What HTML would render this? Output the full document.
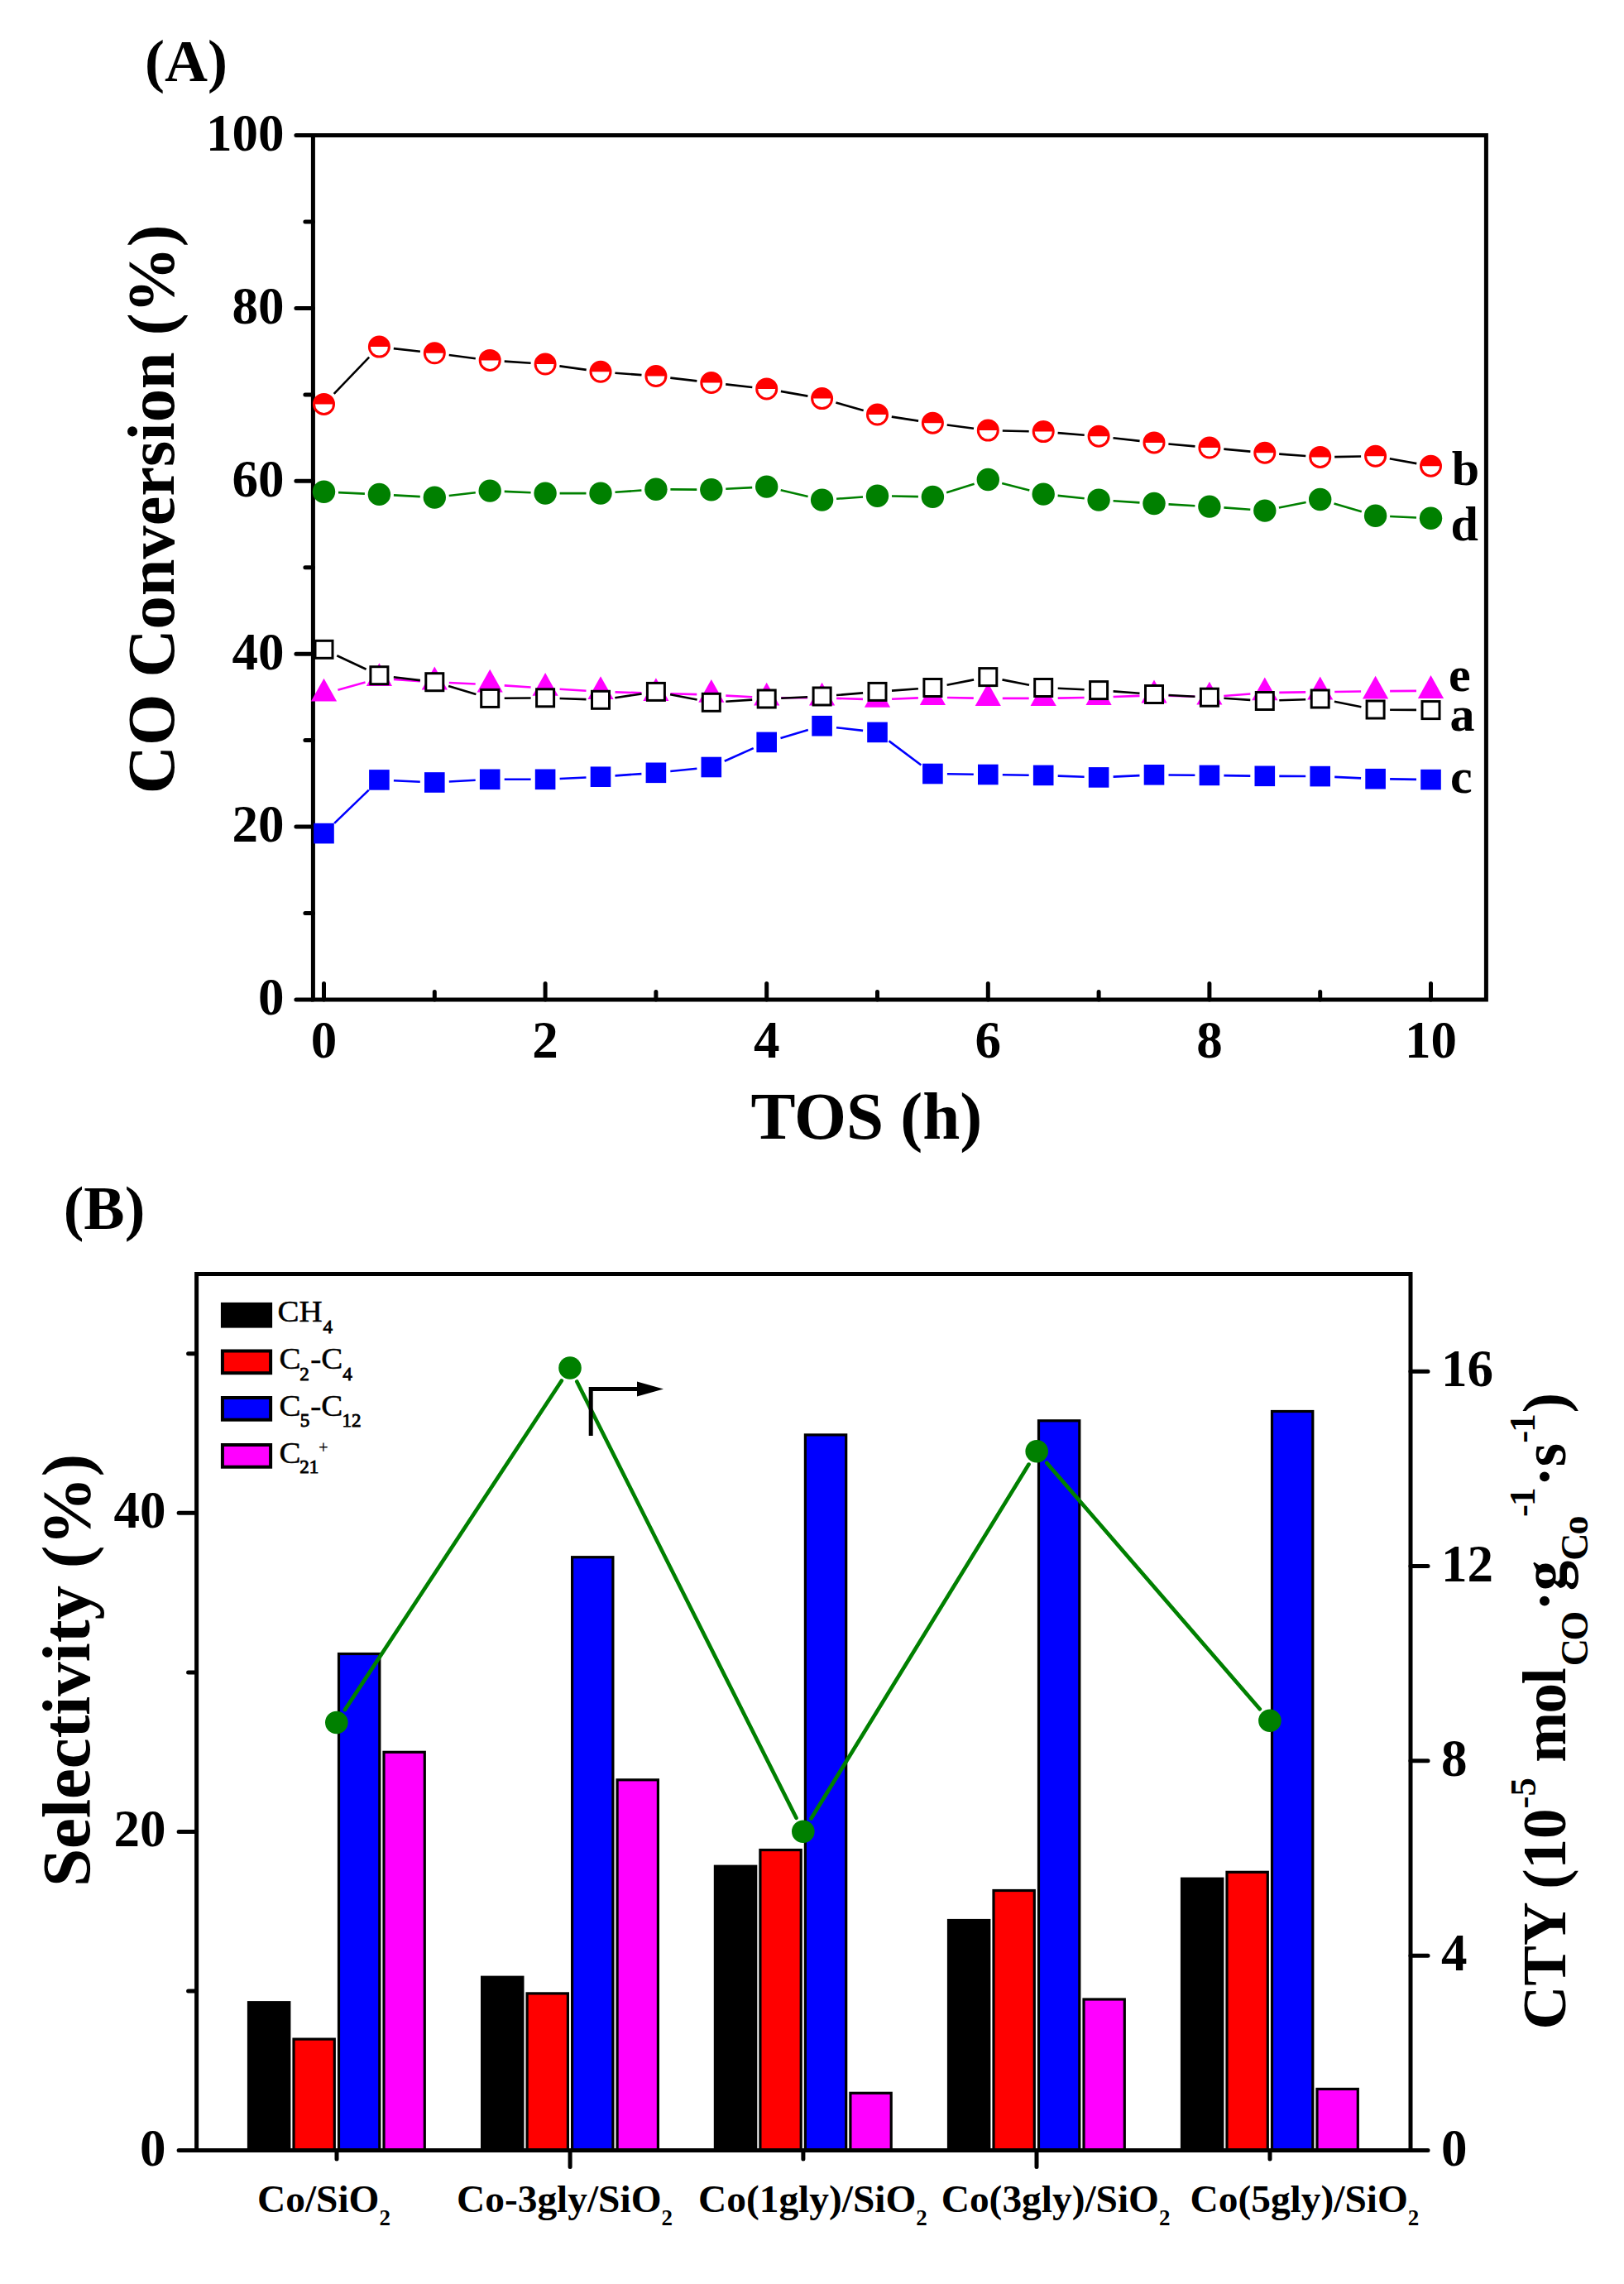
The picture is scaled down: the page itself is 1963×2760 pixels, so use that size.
<!DOCTYPE html>
<html><head><meta charset="utf-8"><title>Figure</title>
<style>
html,body{margin:0;padding:0;background:#fff;}
svg{display:block;}
text{font-family:"Liberation Serif","Times New Roman",serif;fill:#000;}
.b{font-weight:bold;}
</style></head><body>
<svg width="1963" height="2760" viewBox="0 0 1963 2760">
<rect width="1963" height="2760" fill="#fff"/>
<g id="chartA">
<rect x="378.4" y="163.5" width="1418.0" height="1044.5" fill="none" stroke="#000" stroke-width="5"/>
<path d="M378.4 1208.0H357.9M378.4 1103.5H368.9M378.4 999.1H357.9M378.4 894.6H368.9M378.4 790.2H357.9M378.4 685.8H368.9M378.4 581.3H357.9M378.4 476.9H368.9M378.4 372.4H357.9M378.4 268.0H368.9M378.4 163.5H357.9M391.5 1208.0V1188.5M525.3 1208.0V1198.5M659.1 1208.0V1188.5M792.9 1208.0V1198.5M926.7 1208.0V1188.5M1060.5 1208.0V1198.5M1194.3 1208.0V1188.5M1328.1 1208.0V1198.5M1461.9 1208.0V1188.5M1595.7 1208.0V1198.5M1729.5 1208.0V1188.5" stroke="#000" stroke-width="5" stroke-linecap="round" fill="none"/>
<path d="M408.4 833.7L441.5 824.6M475.9 821.0L507.8 823.1M542.8 825.0L574.7 826.5M609.7 828.4L641.6 830.5M676.6 832.7L708.5 834.8M743.5 836.4L775.4 837.3M810.4 838.3L842.3 839.1M877.3 840.6L909.2 842.3M944.2 843.3L976.1 843.3M1011.1 843.9L1043.0 844.9M1078.0 844.8L1109.9 843.4M1144.9 843.0L1176.8 843.6M1211.8 843.9L1243.7 843.9M1278.7 843.6L1310.6 843.0M1345.6 842.0L1377.5 840.9M1412.5 840.8L1444.4 841.8M1479.3 841.0L1511.4 838.5M1546.3 836.9L1578.2 836.4M1613.2 836.0L1645.1 835.5M1680.1 835.1L1712.0 834.9" stroke="#ff00ff" stroke-width="2.6" fill="none"/>
<path d="M391.5 819.8L407.1 847.6L375.9 847.6Z" fill="#ff00ff"/><path d="M458.4 801.3L474.0 829.1L442.8 829.1Z" fill="#ff00ff"/><path d="M525.3 805.6L540.9 833.4L509.7 833.4Z" fill="#ff00ff"/><path d="M592.2 808.7L607.8 836.5L576.6 836.5Z" fill="#ff00ff"/><path d="M659.1 813.0L674.7 840.8L643.5 840.8Z" fill="#ff00ff"/><path d="M726.0 817.3L741.6 845.1L710.4 845.1Z" fill="#ff00ff"/><path d="M792.9 819.2L808.5 847.0L777.3 847.0Z" fill="#ff00ff"/><path d="M859.8 821.0L875.4 848.8L844.2 848.8Z" fill="#ff00ff"/><path d="M926.7 824.7L942.3 852.5L911.1 852.5Z" fill="#ff00ff"/><path d="M993.6 824.7L1009.2 852.5L978.0 852.5Z" fill="#ff00ff"/><path d="M1060.5 826.9L1076.1 854.7L1044.9 854.7Z" fill="#ff00ff"/><path d="M1127.4 824.1L1143.0 851.9L1111.8 851.9Z" fill="#ff00ff"/><path d="M1194.3 825.3L1209.9 853.1L1178.7 853.1Z" fill="#ff00ff"/><path d="M1261.2 825.3L1276.8 853.1L1245.6 853.1Z" fill="#ff00ff"/><path d="M1328.1 824.1L1343.7 851.9L1312.5 851.9Z" fill="#ff00ff"/><path d="M1395.0 821.6L1410.6 849.4L1379.4 849.4Z" fill="#ff00ff"/><path d="M1461.9 823.8L1477.5 851.6L1446.3 851.6Z" fill="#ff00ff"/><path d="M1528.8 818.5L1544.4 846.3L1513.2 846.3Z" fill="#ff00ff"/><path d="M1595.7 817.6L1611.3 845.4L1580.1 845.4Z" fill="#ff00ff"/><path d="M1662.6 816.7L1678.2 844.5L1647.0 844.5Z" fill="#ff00ff"/><path d="M1729.5 816.1L1745.1 843.9L1713.9 843.9Z" fill="#ff00ff"/>
<path d="M407.3 792.2L442.6 808.8M475.8 818.3L507.9 822.1M542.1 829.1L575.4 839.0M609.7 843.7L641.6 843.5M676.6 844.0L708.5 845.1M743.3 843.2L775.6 838.5M810.1 839.2L842.6 845.5M877.3 847.7L909.2 845.6M944.2 843.7L976.1 842.3M1011.0 840.0L1043.1 837.4M1078.0 834.6L1109.9 832.3M1144.6 827.7L1177.1 821.4M1211.5 821.4L1244.0 827.7M1278.7 831.8L1310.6 833.3M1345.6 835.4L1377.5 837.7M1412.5 840.0L1444.4 841.7M1479.4 843.8L1511.3 845.9M1546.3 846.3L1578.2 845.2M1612.9 847.8L1645.4 854.2M1680.1 857.7L1712.0 857.9" stroke="#000" stroke-width="2.6" fill="none"/>
<rect x="381.0" y="774.3" width="21" height="21" fill="#fff" stroke="#000" stroke-width="3"/><rect x="447.9" y="805.7" width="21" height="21" fill="#fff" stroke="#000" stroke-width="3"/><rect x="514.8" y="813.7" width="21" height="21" fill="#fff" stroke="#000" stroke-width="3"/><rect x="581.7" y="833.4" width="21" height="21" fill="#fff" stroke="#000" stroke-width="3"/><rect x="648.6" y="832.8" width="21" height="21" fill="#fff" stroke="#000" stroke-width="3"/><rect x="715.5" y="835.3" width="21" height="21" fill="#fff" stroke="#000" stroke-width="3"/><rect x="782.4" y="825.4" width="21" height="21" fill="#fff" stroke="#000" stroke-width="3"/><rect x="849.3" y="838.3" width="21" height="21" fill="#fff" stroke="#000" stroke-width="3"/><rect x="916.2" y="834.0" width="21" height="21" fill="#fff" stroke="#000" stroke-width="3"/><rect x="983.1" y="831.0" width="21" height="21" fill="#fff" stroke="#000" stroke-width="3"/><rect x="1050.0" y="825.4" width="21" height="21" fill="#fff" stroke="#000" stroke-width="3"/><rect x="1116.9" y="820.5" width="21" height="21" fill="#fff" stroke="#000" stroke-width="3"/><rect x="1183.8" y="807.6" width="21" height="21" fill="#fff" stroke="#000" stroke-width="3"/><rect x="1250.7" y="820.5" width="21" height="21" fill="#fff" stroke="#000" stroke-width="3"/><rect x="1317.6" y="823.6" width="21" height="21" fill="#fff" stroke="#000" stroke-width="3"/><rect x="1384.5" y="828.5" width="21" height="21" fill="#fff" stroke="#000" stroke-width="3"/><rect x="1451.4" y="832.2" width="21" height="21" fill="#fff" stroke="#000" stroke-width="3"/><rect x="1518.3" y="836.5" width="21" height="21" fill="#fff" stroke="#000" stroke-width="3"/><rect x="1585.2" y="834.0" width="21" height="21" fill="#fff" stroke="#000" stroke-width="3"/><rect x="1652.1" y="847.0" width="21" height="21" fill="#fff" stroke="#000" stroke-width="3"/><rect x="1719.0" y="847.6" width="21" height="21" fill="#fff" stroke="#000" stroke-width="3"/>
<path d="M403.7 475.8L446.2 431.7M475.8 421.1L507.9 424.8M542.7 429.0L574.8 433.2M609.7 436.6L641.6 438.8M676.4 442.4L708.7 446.9M743.4 450.7L775.5 453.1M810.3 456.6L842.4 460.4M877.2 464.4L909.3 468.0M943.9 472.9L976.4 478.6M1010.4 486.5L1043.7 496.1M1077.8 503.6L1110.1 508.6M1144.7 513.5L1177.0 517.8M1211.8 520.5L1243.7 521.2M1278.6 523.1L1310.7 525.7M1345.5 529.2L1377.6 532.9M1412.4 536.5L1444.5 539.4M1479.3 542.6L1511.4 545.6M1546.2 548.6L1578.3 551.0M1613.2 552.1L1645.1 551.5M1679.8 554.3L1712.3 560.1" stroke="#000" stroke-width="2.6" fill="none"/>
<circle cx="391.5" cy="488.4" r="12" fill="#fff" stroke="#ff0000" stroke-width="3"/><path d="M379.5 488.4A12 12 0 0 1 403.5 488.4Z" fill="#ff0000"/><circle cx="458.4" cy="419.1" r="12" fill="#fff" stroke="#ff0000" stroke-width="3"/><path d="M446.4 419.1A12 12 0 0 1 470.4 419.1Z" fill="#ff0000"/><circle cx="525.3" cy="426.8" r="12" fill="#fff" stroke="#ff0000" stroke-width="3"/><path d="M513.3 426.8A12 12 0 0 1 537.3 426.8Z" fill="#ff0000"/><circle cx="592.2" cy="435.4" r="12" fill="#fff" stroke="#ff0000" stroke-width="3"/><path d="M580.2 435.4A12 12 0 0 1 604.2 435.4Z" fill="#ff0000"/><circle cx="659.1" cy="440.0" r="12" fill="#fff" stroke="#ff0000" stroke-width="3"/><path d="M647.1 440.0A12 12 0 0 1 671.1 440.0Z" fill="#ff0000"/><circle cx="726.0" cy="449.3" r="12" fill="#fff" stroke="#ff0000" stroke-width="3"/><path d="M714.0 449.3A12 12 0 0 1 738.0 449.3Z" fill="#ff0000"/><circle cx="792.9" cy="454.5" r="12" fill="#fff" stroke="#ff0000" stroke-width="3"/><path d="M780.9 454.5A12 12 0 0 1 804.9 454.5Z" fill="#ff0000"/><circle cx="859.8" cy="462.5" r="12" fill="#fff" stroke="#ff0000" stroke-width="3"/><path d="M847.8 462.5A12 12 0 0 1 871.8 462.5Z" fill="#ff0000"/><circle cx="926.7" cy="469.9" r="12" fill="#fff" stroke="#ff0000" stroke-width="3"/><path d="M914.7 469.9A12 12 0 0 1 938.7 469.9Z" fill="#ff0000"/><circle cx="993.6" cy="481.6" r="12" fill="#fff" stroke="#ff0000" stroke-width="3"/><path d="M981.6 481.6A12 12 0 0 1 1005.6 481.6Z" fill="#ff0000"/><circle cx="1060.5" cy="501.0" r="12" fill="#fff" stroke="#ff0000" stroke-width="3"/><path d="M1048.5 501.0A12 12 0 0 1 1072.5 501.0Z" fill="#ff0000"/><circle cx="1127.4" cy="511.2" r="12" fill="#fff" stroke="#ff0000" stroke-width="3"/><path d="M1115.4 511.2A12 12 0 0 1 1139.4 511.2Z" fill="#ff0000"/><circle cx="1194.3" cy="520.1" r="12" fill="#fff" stroke="#ff0000" stroke-width="3"/><path d="M1182.3 520.1A12 12 0 0 1 1206.3 520.1Z" fill="#ff0000"/><circle cx="1261.2" cy="521.6" r="12" fill="#fff" stroke="#ff0000" stroke-width="3"/><path d="M1249.2 521.6A12 12 0 0 1 1273.2 521.6Z" fill="#ff0000"/><circle cx="1328.1" cy="527.2" r="12" fill="#fff" stroke="#ff0000" stroke-width="3"/><path d="M1316.1 527.2A12 12 0 0 1 1340.1 527.2Z" fill="#ff0000"/><circle cx="1395.0" cy="534.9" r="12" fill="#fff" stroke="#ff0000" stroke-width="3"/><path d="M1383.0 534.9A12 12 0 0 1 1407.0 534.9Z" fill="#ff0000"/><circle cx="1461.9" cy="541.0" r="12" fill="#fff" stroke="#ff0000" stroke-width="3"/><path d="M1449.9 541.0A12 12 0 0 1 1473.9 541.0Z" fill="#ff0000"/><circle cx="1528.8" cy="547.2" r="12" fill="#fff" stroke="#ff0000" stroke-width="3"/><path d="M1516.8 547.2A12 12 0 0 1 1540.8 547.2Z" fill="#ff0000"/><circle cx="1595.7" cy="552.4" r="12" fill="#fff" stroke="#ff0000" stroke-width="3"/><path d="M1583.7 552.4A12 12 0 0 1 1607.7 552.4Z" fill="#ff0000"/><circle cx="1662.6" cy="551.2" r="12" fill="#fff" stroke="#ff0000" stroke-width="3"/><path d="M1650.6 551.2A12 12 0 0 1 1674.6 551.2Z" fill="#ff0000"/><circle cx="1729.5" cy="563.2" r="12" fill="#fff" stroke="#ff0000" stroke-width="3"/><path d="M1717.5 563.2A12 12 0 0 1 1741.5 563.2Z" fill="#ff0000"/>
<path d="M404.1 994.9L445.8 954.6M475.9 943.2L507.8 944.7M542.8 944.5L574.7 942.8M609.7 941.8L641.6 941.8M676.6 941.0L708.5 939.5M743.5 937.4L775.4 935.1M810.3 932.0L842.4 928.8M875.8 919.8L910.7 904.1M943.5 892.0L976.8 882.1M1011.0 879.2L1043.1 882.9M1074.5 895.4L1113.4 924.5M1144.9 935.3L1176.8 935.7M1211.8 936.2L1243.7 936.7M1278.7 937.6L1310.6 938.7M1345.6 938.6L1377.5 937.1M1412.5 936.5L1444.4 936.7M1479.4 937.1L1511.3 937.6M1546.3 937.9L1578.2 938.0M1613.2 938.9L1645.1 940.4M1680.1 941.4L1712.0 941.9" stroke="#0000ff" stroke-width="2.6" fill="none"/>
<rect x="379.2" y="994.8" width="24.6" height="24.6" fill="#0000ff"/><rect x="446.1" y="930.1" width="24.6" height="24.6" fill="#0000ff"/><rect x="513.0" y="933.2" width="24.6" height="24.6" fill="#0000ff"/><rect x="579.9" y="929.5" width="24.6" height="24.6" fill="#0000ff"/><rect x="646.8" y="929.5" width="24.6" height="24.6" fill="#0000ff"/><rect x="713.7" y="926.4" width="24.6" height="24.6" fill="#0000ff"/><rect x="780.6" y="921.5" width="24.6" height="24.6" fill="#0000ff"/><rect x="847.5" y="914.7" width="24.6" height="24.6" fill="#0000ff"/><rect x="914.4" y="884.6" width="24.6" height="24.6" fill="#0000ff"/><rect x="981.3" y="864.9" width="24.6" height="24.6" fill="#0000ff"/><rect x="1048.2" y="872.6" width="24.6" height="24.6" fill="#0000ff"/><rect x="1115.1" y="922.7" width="24.6" height="24.6" fill="#0000ff"/><rect x="1182.0" y="923.7" width="24.6" height="24.6" fill="#0000ff"/><rect x="1248.9" y="924.6" width="24.6" height="24.6" fill="#0000ff"/><rect x="1315.8" y="927.1" width="24.6" height="24.6" fill="#0000ff"/><rect x="1382.7" y="924.0" width="24.6" height="24.6" fill="#0000ff"/><rect x="1449.6" y="924.6" width="24.6" height="24.6" fill="#0000ff"/><rect x="1516.5" y="925.5" width="24.6" height="24.6" fill="#0000ff"/><rect x="1583.4" y="925.8" width="24.6" height="24.6" fill="#0000ff"/><rect x="1650.3" y="928.9" width="24.6" height="24.6" fill="#0000ff"/><rect x="1717.2" y="929.8" width="24.6" height="24.6" fill="#0000ff"/>
<path d="M409.0 595.1L440.9 596.6M475.9 598.4L507.8 600.1M542.7 599.0L574.8 595.2M609.7 593.9L641.6 595.3M676.6 596.1L708.5 596.1M743.5 594.8L775.4 592.5M810.4 591.4L842.3 591.6M877.3 590.8L909.2 589.1M943.7 592.2L976.6 600.0M1011.1 602.8L1043.0 600.5M1078.0 599.5L1109.9 600.1M1144.1 595.2L1177.6 584.7M1211.2 584.0L1244.3 592.6M1278.6 598.9L1310.7 602.3M1345.6 605.2L1377.5 607.4M1412.5 609.4L1444.4 611.2M1479.4 613.4L1511.3 615.8M1545.9 613.6L1578.6 607.0M1612.5 608.4L1645.8 618.3M1680.1 624.0L1712.0 625.5" stroke="#008000" stroke-width="2.6" fill="none"/>
<circle cx="391.5" cy="594.3" r="13.7" fill="#008000"/><circle cx="458.4" cy="597.4" r="13.7" fill="#008000"/><circle cx="525.3" cy="601.1" r="13.7" fill="#008000"/><circle cx="592.2" cy="593.1" r="13.7" fill="#008000"/><circle cx="659.1" cy="596.1" r="13.7" fill="#008000"/><circle cx="726.0" cy="596.1" r="13.7" fill="#008000"/><circle cx="792.9" cy="591.2" r="13.7" fill="#008000"/><circle cx="859.8" cy="591.8" r="13.7" fill="#008000"/><circle cx="926.7" cy="588.1" r="13.7" fill="#008000"/><circle cx="993.6" cy="604.1" r="13.7" fill="#008000"/><circle cx="1060.5" cy="599.2" r="13.7" fill="#008000"/><circle cx="1127.4" cy="600.4" r="13.7" fill="#008000"/><circle cx="1194.3" cy="579.5" r="13.7" fill="#008000"/><circle cx="1261.2" cy="597.1" r="13.7" fill="#008000"/><circle cx="1328.1" cy="604.1" r="13.7" fill="#008000"/><circle cx="1395.0" cy="608.5" r="13.7" fill="#008000"/><circle cx="1461.9" cy="612.1" r="13.7" fill="#008000"/><circle cx="1528.8" cy="617.1" r="13.7" fill="#008000"/><circle cx="1595.7" cy="603.5" r="13.7" fill="#008000"/><circle cx="1662.6" cy="623.2" r="13.7" fill="#008000"/><circle cx="1729.5" cy="626.3" r="13.7" fill="#008000"/>
<text class="b" x="343.5" y="1226.3" font-size="63" text-anchor="end">0</text><text class="b" x="343.5" y="1017.4" font-size="63" text-anchor="end">20</text><text class="b" x="343.5" y="808.5" font-size="63" text-anchor="end">40</text><text class="b" x="343.5" y="599.6" font-size="63" text-anchor="end">60</text><text class="b" x="343.5" y="390.7" font-size="63" text-anchor="end">80</text><text class="b" x="343.5" y="181.8" font-size="63" text-anchor="end">100</text>
<text class="b" x="391.5" y="1278.3" font-size="63" text-anchor="middle">0</text><text class="b" x="659.1" y="1278.3" font-size="63" text-anchor="middle">2</text><text class="b" x="926.7" y="1278.3" font-size="63" text-anchor="middle">4</text><text class="b" x="1194.3" y="1278.3" font-size="63" text-anchor="middle">6</text><text class="b" x="1461.9" y="1278.3" font-size="63" text-anchor="middle">8</text><text class="b" x="1729.5" y="1278.3" font-size="63" text-anchor="middle">10</text>
<text class="b" x="1047.4" y="1376" font-size="81" text-anchor="middle">TOS (h)</text>
<text class="b" transform="translate(210 615.3) rotate(-90)" font-size="80.4" text-anchor="middle">CO Conversion (%)</text>
<text class="b" x="175" y="98.3" font-size="72">(A)</text>
<text class="b" x="1754.7" y="586.3" font-size="60">b</text><text class="b" x="1753.5" y="653.3" font-size="60">d</text><text class="b" x="1751" y="834.7" font-size="60">e</text><text class="b" x="1752.5" y="883" font-size="60">a</text><text class="b" x="1753" y="957.8" font-size="60">c</text>
</g>
<g id="chartB">
<rect x="300.5" y="2419.7" width="49.3" height="178.8" fill="#000" stroke="#000" stroke-width="3.2"/><rect x="355.0" y="2464.1" width="49.3" height="134.4" fill="#ff0000" stroke="#000" stroke-width="3.2"/><rect x="409.5" y="1998.5" width="49.3" height="600.0" fill="#0000ff" stroke="#000" stroke-width="3.2"/><rect x="464.0" y="2117.3" width="49.3" height="481.2" fill="#ff00ff" stroke="#000" stroke-width="3.2"/>
<rect x="582.6" y="2389.2" width="49.3" height="209.3" fill="#000" stroke="#000" stroke-width="3.2"/><rect x="637.1" y="2408.9" width="49.3" height="189.6" fill="#ff0000" stroke="#000" stroke-width="3.2"/><rect x="691.6" y="1881.7" width="49.3" height="716.8" fill="#0000ff" stroke="#000" stroke-width="3.2"/><rect x="746.1" y="2150.8" width="49.3" height="447.7" fill="#ff00ff" stroke="#000" stroke-width="3.2"/>
<rect x="864.4" y="2255.2" width="49.3" height="343.3" fill="#000" stroke="#000" stroke-width="3.2"/><rect x="918.9" y="2235.5" width="49.3" height="363.0" fill="#ff0000" stroke="#000" stroke-width="3.2"/><rect x="973.4" y="1733.9" width="49.3" height="864.6" fill="#0000ff" stroke="#000" stroke-width="3.2"/><rect x="1027.9" y="2529.3" width="49.3" height="69.2" fill="#ff00ff" stroke="#000" stroke-width="3.2"/>
<rect x="1146.5" y="2320.5" width="49.3" height="278.0" fill="#000" stroke="#000" stroke-width="3.2"/><rect x="1201.0" y="2284.5" width="49.3" height="314.0" fill="#ff0000" stroke="#000" stroke-width="3.2"/><rect x="1255.5" y="1716.8" width="49.3" height="881.7" fill="#0000ff" stroke="#000" stroke-width="3.2"/><rect x="1310.0" y="2416.0" width="49.3" height="182.5" fill="#ff00ff" stroke="#000" stroke-width="3.2"/>
<rect x="1428.5" y="2270.2" width="49.3" height="328.3" fill="#000" stroke="#000" stroke-width="3.2"/><rect x="1483.0" y="2262.3" width="49.3" height="336.2" fill="#ff0000" stroke="#000" stroke-width="3.2"/><rect x="1537.5" y="1705.5" width="49.3" height="893.0" fill="#0000ff" stroke="#000" stroke-width="3.2"/><rect x="1592.0" y="2524.4" width="49.3" height="74.1" fill="#ff00ff" stroke="#000" stroke-width="3.2"/>
<path d="M417.0 2066.0L678.8 1668.5M697.3 1669.5L962.5 2196.8M980.5 2197.5L1243.5 1769.6M1265.3 1767.8L1522.8 2065.3" stroke="#008000" stroke-width="4.7" stroke-linecap="round" fill="none"/>
<circle cx="406.8" cy="2081.5" r="13.8" fill="#008000"/><circle cx="689.0" cy="1653.0" r="13.8" fill="#008000"/><circle cx="970.8" cy="2213.3" r="13.8" fill="#008000"/><circle cx="1253.2" cy="1753.8" r="13.8" fill="#008000"/><circle cx="1534.9" cy="2079.3" r="13.8" fill="#008000"/>
<path d="M714.2 1735V1678.5H772" stroke="#000" stroke-width="5" fill="none"/><path d="M770 1669.5L802 1678.5L770 1687.5Z" fill="#000"/>
<rect x="237.6" y="1539.5" width="1467.4" height="1059.0" fill="none" stroke="#000" stroke-width="5"/>
<path d="M237.6 2598.5H216.1M237.6 2406.0H227.6M237.6 2213.4H216.1M237.6 2020.9H227.6M237.6 1828.3H216.1M237.6 1635.8H227.6M1705.0 2598.5H1726.0M1705.0 2363.2H1726.0M1705.0 2127.8H1726.0M1705.0 1892.5H1726.0M1705.0 1657.2H1726.0M407.0 2598.5V2609.0M689.1 2598.5V2618.5M970.9 2598.5V2609.0M1253.0 2598.5V2618.5M1535.0 2598.5V2609.0" stroke="#000" stroke-width="5" stroke-linecap="round" fill="none"/>
<text class="b" x="200.5" y="2616.5" font-size="63" text-anchor="end">0</text><text class="b" x="200.5" y="2231.4" font-size="63" text-anchor="end">20</text><text class="b" x="200.5" y="1846.3" font-size="63" text-anchor="end">40</text>
<text class="b" x="1742" y="2616.5" font-size="63">0</text><text class="b" x="1742" y="2381.2" font-size="63">4</text><text class="b" x="1742" y="2145.8" font-size="63">8</text><text class="b" x="1742" y="1910.5" font-size="63">12</text><text class="b" x="1742" y="1675.2" font-size="63">16</text>
<text class="b" x="311" y="2673" font-size="47.4">Co/SiO<tspan font-size="27" dy="16">2</tspan></text><text class="b" x="552" y="2673" font-size="47.4">Co-3gly/SiO<tspan font-size="27" dy="16">2</tspan></text><text class="b" x="844" y="2673" font-size="47.4">Co(1gly)/SiO<tspan font-size="27" dy="16">2</tspan></text><text class="b" x="1137.7" y="2673" font-size="47.4">Co(3gly)/SiO<tspan font-size="27" dy="16">2</tspan></text><text class="b" x="1438.5" y="2673" font-size="47.4">Co(5gly)/SiO<tspan font-size="27" dy="16">2</tspan></text>
<text class="b" x="76.7" y="1484.5" font-size="74">(B)</text>
<text class="b" transform="translate(108 2018.5) rotate(-90)" font-size="83" text-anchor="middle">Selectivity (%)</text>
<g transform="translate(1891.7 2452.5) rotate(-90)" class="b" font-weight="bold"><text font-size="73"><tspan>CTY (10</tspan><tspan font-size="45" dy="-35.5">-5</tspan><tspan dy="35.5" dx="0 0 -1.5 -1.5"> mol</tspan><tspan font-size="46" dy="27" dx="2 -2.5">CO</tspan><tspan dy="-27" dx="0">·g</tspan><tspan font-size="46" dy="27" dx="0 -2">Co</tspan><tspan font-size="45" dy="-63.5" dx="-1.5 -2">-1</tspan><tspan dy="36.5" dx="1">·s</tspan><tspan font-size="45" dy="-36.5" dx="0 -2">-1</tspan><tspan dy="36.5" dx="1">)</tspan></text></g>
<rect x="268.9" y="1575.9" width="58.2" height="26.7" fill="#000" stroke="#000" stroke-width="4"/><rect x="268.9" y="1632.5" width="58.2" height="26.7" fill="#ff0000" stroke="#000" stroke-width="4"/><rect x="268.9" y="1689.0" width="58.2" height="26.7" fill="#0000ff" stroke="#000" stroke-width="4"/><rect x="268.9" y="1746.0" width="58.2" height="26.7" fill="#ff00ff" stroke="#000" stroke-width="4"/>
<text transform="translate(335.5 1597) scale(1.115 1)" font-size="35" stroke="#000" stroke-width="0.5">CH</text><text x="390.4" y="1610.8" font-size="23" stroke="#000" stroke-width="0.9">4</text>
<text transform="translate(337.5 1653.9) scale(1.115 1)" font-size="35" stroke="#000" stroke-width="0.5">C</text><text x="362.3" y="1667.8" font-size="23" stroke="#000" stroke-width="0.9">2</text><text transform="translate(375.2 1653.9) scale(1.115 1)" font-size="35" stroke="#000" stroke-width="0.5">-C</text><text x="414.2" y="1667.8" font-size="23" stroke="#000" stroke-width="0.9">4</text>
<text transform="translate(337.5 1710.9) scale(1.115 1)" font-size="35" stroke="#000" stroke-width="0.5">C</text><text x="362.8" y="1724" font-size="23" stroke="#000" stroke-width="0.9">5</text><text transform="translate(375.2 1710.9) scale(1.115 1)" font-size="35" stroke="#000" stroke-width="0.5">-C</text><text x="413.5" y="1724" font-size="23" stroke="#000" stroke-width="0.9">12</text>
<text transform="translate(337.5 1767.8) scale(1.115 1)" font-size="35" stroke="#000" stroke-width="0.5">C</text><text x="362.3" y="1780.4" font-size="23" stroke="#000" stroke-width="0.9">21</text><text x="385.3" y="1756.3" font-size="20" stroke="#000" stroke-width="0.3">+</text>
</g>
</svg>
</body></html>
